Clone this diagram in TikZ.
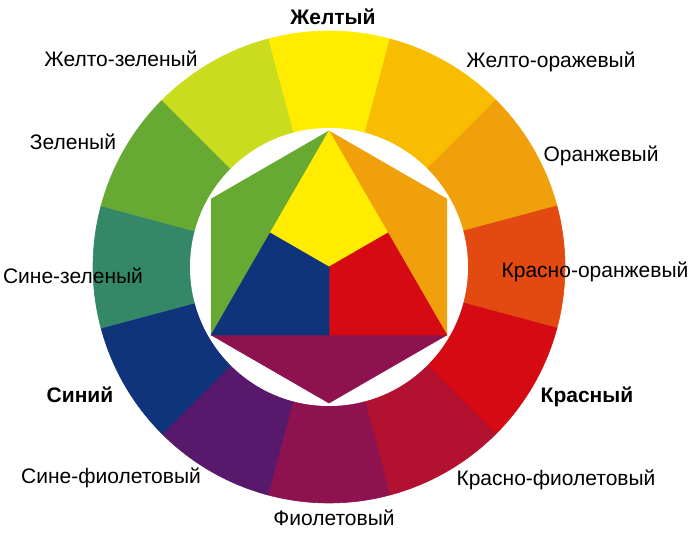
\documentclass[tikz,border=0pt]{standalone}
\usepackage{fontspec}
\setmainfont{Liberation Sans}
\definecolor{cY}{RGB}{255,236,0}
\definecolor{cYO}{RGB}{248,189,0}
\definecolor{cO}{RGB}{240,160,10}
\definecolor{cRO}{RGB}{226,74,18}
\definecolor{cR}{RGB}{214,10,18}
\definecolor{cRV}{RGB}{178,18,48}
\definecolor{cV}{RGB}{142,18,80}
\definecolor{cBV}{RGB}{88,24,108}
\definecolor{cB}{RGB}{16,52,124}
\definecolor{cBG}{RGB}{52,136,104}
\definecolor{cG}{RGB}{102,170,52}
\definecolor{cYG}{RGB}{202,220,30}
\begin{document}
\begin{tikzpicture}[x=1pt, y=1pt, line join=round,
  lbl/.style={anchor=base, inner sep=0pt, font=\fontsize{21}{25}\selectfont},
  prim/.style={lbl, font=\fontsize{21}{25}\selectfont\bfseries},
  piece/.style={fill=#1, draw=#1, line width=.6pt}]
\useasboundingbox (-329,-267) rectangle (361,267);
\foreach \c [count=\i from 0] in {cY,cYO,cO,cRO,cR,cRV,cV,cBV,cB,cBG,cG,cYG}{
  \pgfmathsetmacro\a{90-30*\i}
  \path[piece=\c] (0,0)--(\a+15:236) arc[start angle=\a+15, end angle=\a-15, radius=236]--cycle;
}
\fill[white] (0,0) circle (139);
\coordinate (T) at (90:136);
\coordinate (UR) at (30:136);
\coordinate (LR) at (-30:136);
\coordinate (B) at (-90:136);
\coordinate (LL) at (210:136);
\coordinate (UL) at (150:136);
\coordinate (O) at (0,0);
\path[piece=cG] (T)--(UL)--(LL)--cycle;
\path[piece=cO] (T)--(UR)--(LR)--cycle;
\path[piece=cV] (LL)--(B)--(LR)--cycle;
\path[piece=cY] (T)--(30:68)--(O)--(150:68)--cycle;
\path[piece=cR] (30:68)--(LR)--(-90:68)--(O)--cycle;
\path[piece=cB] (150:68)--(O)--(-90:68)--(LL)--cycle;
\node[prim] (yel) at (4,242) {Желтый};
\node[lbl] (yelor) at (222,199) {Желто-оражевый};
\node[lbl] (ora) at (272,105) {Оранжевый};
\node[lbl] (redor) at (266,-11) {Красно-оранжевый};
\node[prim] (red) at (258,-136) {Красный};
\node[lbl] (redvi) at (227,-219) {Красно-фиолетовый};
\node[lbl] (vio) at (5,-259) {Фиолетовый};
\node[lbl] (bluvi) at (-218,-217) {Сине-фиолетовый};
\node[prim] (blu) at (-249,-136) {Синий};
\node[lbl] (blugr) at (-256,-17) {Сине-зеленый};
\node[lbl] (gre) at (-256,117) {Зеленый};
\node[lbl] (yelgr) at (-208,200) {Желто-зеленый};
\end{tikzpicture}
\end{document}
